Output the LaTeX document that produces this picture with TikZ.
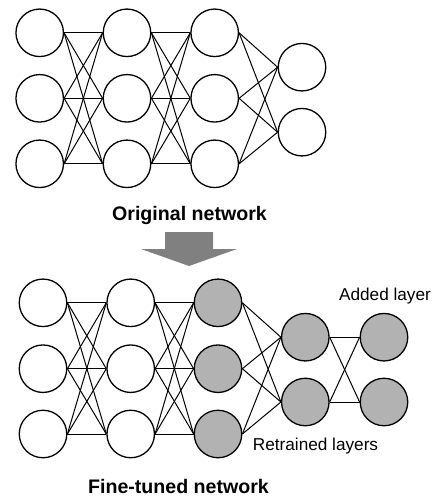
\documentclass[tikz,border=0pt]{standalone}
\usepackage{fontspec}
\setmainfont{Liberation Sans}
\definecolor{nodegray}{RGB}{178,178,178}
\definecolor{arrowgray}{RGB}{128,128,128}
\begin{document}
\begin{tikzpicture}[x=1pt,y=-1pt,
      neuron/.style={
        % The shape:
        circle,minimum size=47.5pt,inner sep=0pt,
        % The rest
        line width=1.3pt,draw=black},
      tuned/.style={neuron,fill=nodegray},
      link/.style={line width=1pt},
      title/.style={anchor=base,font=\fontsize{19.6}{22}\selectfont\bfseries},
      note/.style={anchor=base,font=\fontsize{17.2}{20}\selectfont}]
    \useasboundingbox (0,0) rectangle (435,498);
    % original network
    \foreach \c/\x in {1/39.7,2/127,3/214.7}
      \foreach \r/\y in {1/32.8,2/98.3,3/163.8}
        \node(o\c\r)[neuron] at (\x,\y) {};
    \foreach \r/\y in {1/67.2,2/132.2}
      \node(o4\r)[neuron] at (302,\y) {};
    \foreach \c/\n in {1/2,2/3}
      \foreach \i in {1,2,3}
        \foreach \j in {1,2,3}
          \path (o\c\i.east) edge[link] (o\n\j.west);
    \foreach \i in {1,2,3}
      \foreach \j in {1,2}
        \path (o3\i.east) edge[link] (o4\j.west);
    \node(orig)[title] at (189.5,220) {Original network};
    % arrow
    \fill[arrowgray] (165,232) -- (213,232) -- (213,249) -- (237,249)
      -- (189,266) -- (141,249) -- (165,249) -- cycle;
    % fine-tuned network
    \foreach \c/\x in {1/43,2/130.7}
      \foreach \r/\y in {1/302.8,2/368.7,3/434}
        \node(f\c\r)[neuron] at (\x,\y) {};
    \foreach \r/\y in {1/302.8,2/368.7,3/434}
      \node(f3\r)[tuned] at (218,\y) {};
    \foreach \c/\x in {4/305.3,5/384}
      \foreach \r/\y in {1/337.2,2/402}
        \node(f\c\r)[tuned] at (\x,\y) {};
    \foreach \c/\n in {1/2,2/3}
      \foreach \i in {1,2,3}
        \foreach \j in {1,2,3}
          \path (f\c\i.east) edge[link] (f\n\j.west);
    \foreach \i in {1,2,3}
      \foreach \j in {1,2}
        \path (f3\i.east) edge[link] (f4\j.west);
    \foreach \i in {1,2}
      \foreach \j in {1,2}
        \path (f4\i.east) edge[link] (f5\j.west);
    \node(added)[note] at (385,300.7) {Added layer};
    \node(retr)[note] at (315.5,450.7) {Retrained layers};
    \node(fine)[title] at (178.5,493) {Fine-tuned network};
  \end{tikzpicture}
\end{document}
